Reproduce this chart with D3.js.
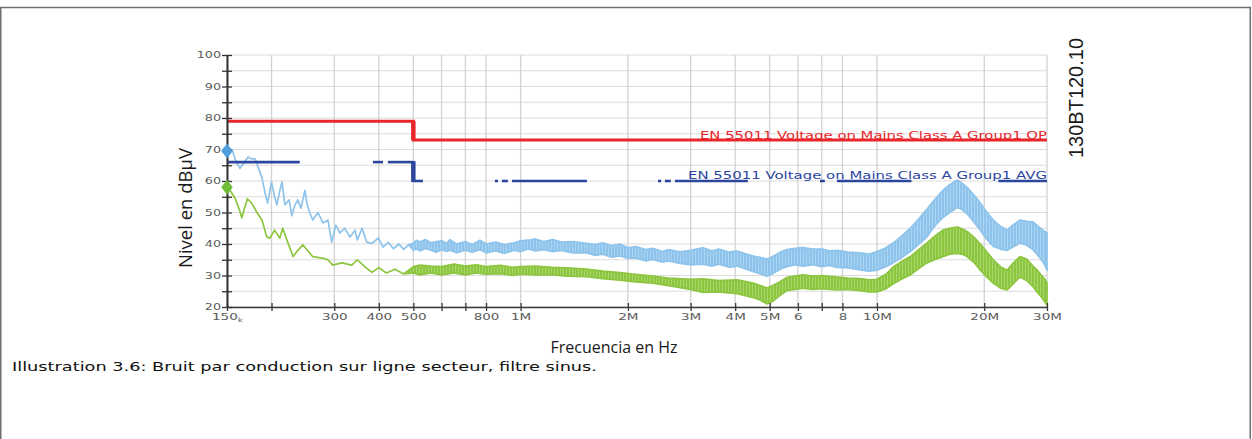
<!DOCTYPE html>
<html><head><meta charset="utf-8">
<script src="https://cdn.jsdelivr.net/npm/d3@7"></script>
<style>html,body{margin:0;padding:0;background:#fff;} svg{display:block}</style>
</head><body>
<svg id="c" width="1252" height="439"></svg>
<script>
// ---------- data ----------
const xTickValues = [150e3,200e3,300e3,400e3,500e3,600e3,700e3,800e3,1e6,2e6,3e6,4e6,5e6,6e6,7e6,8e6,10e6,20e6,30e6];
const xTickLabels = ["150k","","300","400","500","","","800","1M","2M","3M","4M","5M","6","","8","10M","20M","30M"];
const yTickValues = [20,25,30,35,40,45,50,55,60,65,70,75,80,85,90,95,100];
const yTickLabels = ["20","","30","","40","","50","","60","","70","","80","","90","","100"];

// EN 55011 QP limit (step line)
const qpFreq  = [150e3, 500e3, 500e3, 30e6];
const qpLevel = [79, 79, 73, 73];
// EN 55011 AVG limit: drawn segments (Hz) and levels
const avgSegF1    = [150e3, 385e3, 424e3, 500e3, 847e3, 886e3, 946e3, 2.43e6, 2.54e6, 2.71e6, 6.92e6, 7.72e6, 21.9e6];
const avgSegF2    = [240e3, 411e3, 500e3, 532e3, 864e3, 921e3, 1.535e6, 2.48e6, 2.64e6, 4.34e6, 7.14e6, 12.5e6, 30e6];
const avgSegLevel = [66, 66, 66, 60, 60, 60, 60, 60, 60, 60, 60, 60, 60];
const avgStepFreq = 500e3;
const avgStepLevels = [66, 60];

// Peak trace (light blue): frequency in kHz, low / high envelope in dBµV
const pkFreq = [150,155,158,163,168,172,176,180,184,188,192,195,200,204,207,211,214,218,224,228,232,237,242,248,252,256,261,270,279,288,295,303,311,321,332,343,348,359,370,383,399,411,425,440,455,470,485,
  500,510,522,540,560,580,600,620,634,660,700,730,769,800,850,900,960,1000,1050,1100,1160,1230,1300,1400,1530,1620,1700,1800,1900,2000,2100,2250,2350,2500,2600,2800,3000,3250,3450,3600,3850,4050,4300,4500,4700,4910,5050,5200,5400,5590,5900,6200,6600,7000,7350,7720,8300,8960,9500,10000,10500,11100,11700,12400,13100,13800,14500,15300,16000,16800,17300,17900,18700,19500,20300,21200,22200,23200,24200,25200,26300,27400,28200,29000,29600,30000];
const pkLo = [69.5,70,67,64,66,67.6,67,67,64,61,56,53,59.7,55,52.4,57,59.7,52.4,54,49,52,54,51.4,57,52.4,50,47.6,50,46.7,47.6,40.6,46,43.5,45,42.2,44.4,41.3,45,40.6,40.2,41.9,39,40.5,38.5,40,38.3,39.8,
  38.0,38.5,37.8,38.6,38.0,37.4,38.2,37.6,38.0,37.2,38.0,37.4,38.2,37.2,37.8,37.0,38.0,37.6,38.4,37.8,38.2,37.6,38.0,37.2,37.2,36.4,36.8,35.8,36.2,35.4,35.6,34.6,35.1,34.2,34.6,33.8,33.4,33.6,33.0,33.6,32.6,33.0,32.0,31.2,30.6,29.8,30.4,31.2,32.2,32.8,33.4,33.0,33.4,32.8,33.2,32.6,32.4,31.8,31.4,31.7,32.6,34.0,35.6,37.6,40.0,42.2,45.6,48.4,50.0,51.6,51.0,49.6,47.0,44.4,41.6,39.2,38.4,38.0,39.2,40.3,39.6,38.2,36.6,34.8,33.2,31.7];
const pkHi = [69.5,70,67,64,66,67.6,67,67,64,61,56,53,59.7,55,52.4,57,59.7,52.4,54,49,52,54,51.4,57,52.4,50,47.6,50,46.7,47.6,40.6,46,43.5,45,42.2,44.4,41.3,45,40.6,40.2,41.9,39,40.5,38.5,40,38.3,39.8,
  40.2,41.2,40.6,41.4,40.4,40.8,41.0,40.2,41.4,40.0,40.8,39.8,41.2,40.0,40.6,39.8,40.4,41.0,41.2,41.6,40.8,41.4,40.6,40.8,40.2,39.8,40.4,39.4,40.0,38.8,39.2,38.2,38.6,37.6,38.2,37.5,38.0,38.8,37.8,38.4,37.4,37.8,36.8,36.2,35.8,35.2,35.8,36.6,37.6,38.2,38.6,38.9,38.4,38.4,37.8,38.0,37.4,37.2,36.8,37.6,38.6,40.3,42.4,45.0,48.0,51.0,54.0,57.0,58.8,60.3,59.4,58.0,55.6,53.0,50.2,47.6,45.6,44.4,46.2,47.6,47.2,47.0,45.8,44.6,44.0,43.5];

// Average trace (green)
const avFreq = [150,153,158,163,165,171,176,182,188,194,198,204,211,215,222,230,237,245,252,261,278,288,297,315,336,348,366,383,400,420,444,470,
  500,522,560,600,650,700,750,800,880,950,1000,1100,1230,1350,1530,1700,1900,2100,2350,2600,3000,3250,3600,4050,4500,4700,4910,5100,5300,5590,6200,6600,7000,7720,8300,8960,9500,10000,10600,11100,11700,12400,13100,13800,14500,15300,16000,16800,17300,17900,18700,19500,20300,21200,22200,23200,24200,25200,26300,27400,28200,29000,29600,30000];
const avLo = [58,57,54.6,50.5,48.3,54.3,53,50,47.6,42.2,41.9,44.4,41.9,45,40.6,36,38,39.7,38,36,35.5,35,33.3,34,33.3,35,32.7,31,32.5,30.8,32,30.5,
  30.8,30.2,30.8,30.2,30.8,30.2,30.8,30.4,30.6,30.0,30.4,30.2,30.2,29.8,29.6,29.0,28.5,28.0,27.6,26.8,25.6,24.6,24.8,24.2,23.0,22.2,21.0,21.8,23.4,25.2,26.0,25.6,25.8,25.4,25.6,25.2,24.8,24.8,25.8,27.4,28.8,30.2,32.2,34.0,35.0,36.0,36.8,37.0,36.8,36.0,34.2,31.7,29.6,27.6,26.0,25.4,27.6,29.5,28.4,26.5,24.6,23.0,21.6,20.5];
const avHi = [58,57,54.6,50.5,48.3,54.3,53,50,47.6,42.2,41.9,44.4,41.9,45,40.6,36,38,39.7,38,36,35.5,35,33.3,34,33.3,35,32.7,31,32.5,30.8,32,30.5,
  32.8,33.3,33.0,32.8,33.6,33.0,33.4,32.8,33.2,32.6,32.8,33.0,32.6,32.4,32.0,31.4,30.9,30.4,29.8,29.2,28.8,28.9,28.4,28.6,27.6,26.8,26.0,26.8,27.8,29.4,30.2,29.8,30.0,29.5,29.2,29.0,28.6,28.8,30.4,32.7,34.4,36.0,38.2,40.3,42.4,44.4,45.0,45.4,44.8,44.0,42.2,40.0,37.6,35.0,32.8,31.7,34.2,36.0,35.2,33.0,31.6,30.0,28.8,27.6];

// marker levels at 150 kHz
const markerLevels = [69.5, 58];

// ---------- drawing ----------
const svg = d3.select('#c');
const x = d3.scaleLog().domain([150e3, 30e6]).range([227, 1047]);
const y = d3.scaleLinear().domain([20, 100]).range([307, 55]);

const blue = '#8ec4ec', blueLight = '#b3d8f4';
const green = '#8cc63f', greenLight = '#b2da7c';
const red = '#e8262b', navy = '#2c469e';

// frame
svg.append('rect').attr('x', 0.75).attr('y', 7.5).attr('width', 1249.5).attr('height', 460)
  .attr('fill', 'none').attr('stroke', '#6e6e6e').attr('stroke-width', 1.5);

const defs = svg.append('defs');
function hatch(id, c1, c2) {
  const p = defs.append('pattern').attr('id', id).attr('width', 3).attr('height', 4)
    .attr('patternUnits', 'userSpaceOnUse');
  p.append('rect').attr('width', 3).attr('height', 4).attr('fill', c1);
  p.append('rect').attr('x', 2).attr('width', 0.8).attr('height', 4).attr('fill', c2);
}
hatch('hb', blue, blueLight);
hatch('hg', green, greenLight);

// grid
const grid = svg.append('g');
grid.selectAll('line.h').data(yTickValues).join('line')
  .attr('x1', x.range()[0]).attr('x2', x.range()[1])
  .attr('y1', d => y(d)).attr('y2', d => y(d))
  .attr('stroke', '#dcdcdc').attr('stroke-width', 1.2);
grid.selectAll('line.v').data(xTickValues).join('line')
  .attr('x1', d => x(d)).attr('x2', d => x(d))
  .attr('y1', y.range()[1]).attr('y2', y.range()[0])
  .attr('stroke', '#d2d2d2').attr('stroke-width', 1.3);

// traces
const area = d3.area().x(d => x(d.f)).y0(d => y(d.lo)).y1(d => y(d.hi));
const pkRows = pkFreq.map((f, i) => ({f: f * 1e3, lo: pkLo[i], hi: pkHi[i]}));
const avRows = avFreq.map((f, i) => ({f: f * 1e3, lo: avLo[i], hi: avHi[i]}));
svg.append('path').datum(pkRows).attr('d', area)
  .attr('fill', 'url(#hb)').attr('stroke', blue).attr('stroke-width', 1.7).attr('stroke-linejoin', 'round');
svg.append('path').datum(avRows).attr('d', area)
  .attr('fill', 'url(#hg)').attr('stroke', green).attr('stroke-width', 1.7).attr('stroke-linejoin', 'round');

// QP limit
const qpRows = qpFreq.map((f, i) => ({f, v: qpLevel[i]}));
svg.append('path').datum(qpRows)
  .attr('d', d3.line().x(d => x(d.f)).y(d => y(d.v)))
  .attr('fill', 'none').attr('stroke', red).attr('stroke-width', 3);
svg.append('line').attr('x1', x(500e3)).attr('x2', x(500e3))
  .attr('y1', y(qpLevel[1])).attr('y2', y(qpLevel[2]))
  .attr('stroke', red).attr('stroke-width', 4.5);

// AVG limit
const avgRows = avgSegF1.map((f, i) => ({f1: f, f2: avgSegF2[i], v: avgSegLevel[i]}));
svg.append('g').selectAll('line').data(avgRows).join('line')
  .attr('x1', d => x(d.f1)).attr('x2', d => x(d.f2))
  .attr('y1', d => y(d.v)).attr('y2', d => y(d.v))
  .attr('stroke', navy).attr('stroke-width', 2.6);
svg.append('line').attr('x1', x(avgStepFreq)).attr('x2', x(avgStepFreq))
  .attr('y1', y(avgStepLevels[0]) - 1).attr('y2', y(avgStepLevels[1]) + 1)
  .attr('stroke', navy).attr('stroke-width', 4.5);

// limit labels
svg.append('text').attr('x', x(30e6)).attr('y', y(73) - 1.5)
  .attr('text-anchor', 'end').attr('fill', red)
  .style('font-family', 'DejaVu Sans, Verdana, sans-serif').style('font-size', '10.5px')
  .attr('textLength', 347).attr('lengthAdjust', 'spacingAndGlyphs')
  .text('EN 55011 Voltage on Mains Class A Group1 QP');
svg.append('text').attr('x', x(30e6)).attr('y', y(60) - 2)
  .attr('text-anchor', 'end').attr('fill', navy)
  .style('font-family', 'DejaVu Sans, Verdana, sans-serif').style('font-size', '10.5px')
  .attr('textLength', 359).attr('lengthAdjust', 'spacingAndGlyphs')
  .text('EN 55011 Voltage on Mains Class A Group1 AVG');

// axes
const tickFont = 'DejaVu Sans, Verdana, sans-serif';
const xAxis = d3.axisBottom(x).tickValues(xTickValues)
  .tickFormat((d, i) => xTickLabels[i]).tickSizeInner(4).tickSizeOuter(0);
const gx = svg.append('g').attr('transform', `translate(0,${y(20)})`).call(xAxis);
gx.select('.domain').attr('stroke', '#3a3a3a').attr('stroke-width', 1.6);
gx.selectAll('.tick line').attr('y1', -4).attr('y2', 4).attr('stroke', '#3a3a3a').attr('stroke-width', 1.3);
gx.selectAll('.tick text').attr('y', 13).attr('dy', 0).attr('fill', '#5a5a5a')
  .style('font-family', tickFont).style('font-size', '9px')
  .each(function(d, i) {
    const t = d3.select(this);
    const lab = xTickLabels[i];
    if (lab.endsWith('k')) {
      t.text(lab.slice(0, -1));
      t.append('tspan').style('font-size', '6px').attr('dy', 1.5).text('k');
    }
    const w = this.getComputedTextLength();
    if (w > 0) t.attr('textLength', w * 1.5).attr('lengthAdjust', 'spacingAndGlyphs');
  });

const yAxis = d3.axisLeft(y).tickValues(yTickValues)
  .tickFormat((d, i) => yTickLabels[i]).tickSizeInner(5).tickSizeOuter(0);
const gy = svg.append('g').attr('transform', `translate(${x(150e3)},0)`).call(yAxis);
gy.select('.domain').attr('stroke', '#333').attr('stroke-width', 2);
gy.selectAll('.tick line').attr('x1', -5).attr('x2', 5).attr('stroke', '#333').attr('stroke-width', 1.3);
gy.selectAll('.tick text').attr('x', -6).attr('dy', '0.35em').attr('fill', '#5a5a5a')
  .style('font-family', tickFont).style('font-size', '8.5px')
  .each(function() {
    const w = this.getComputedTextLength();
    if (w > 0) d3.select(this).attr('textLength', w * 1.5).attr('lengthAdjust', 'spacingAndGlyphs');
  });

// markers
const diamond = d3.symbol().type(d3.symbolDiamond).size(80);
svg.append('path').attr('d', diamond).attr('transform', `translate(${x(150e3)},${y(markerLevels[0])}) scale(1.2,0.9)`)
  .attr('fill', '#4f9fdc');
svg.append('path').attr('d', diamond).attr('transform', `translate(${x(150e3)},${y(markerLevels[1])}) scale(1.2,0.9)`)
  .attr('fill', '#6fbf3a');

// titles
svg.append('text').attr('transform', 'translate(192,208) rotate(-90)')
  .attr('text-anchor', 'middle').attr('fill', '#1a1a1a')
  .style('font-family', 'Open Sans, sans-serif').style('font-size', '18.5px')
  .text('Nivel en dBµV');
svg.append('text').attr('x', 614).attr('y', 353)
  .attr('text-anchor', 'middle').attr('fill', '#1a1a1a')
  .style('font-family', 'Open Sans, sans-serif').style('font-size', '16px')
  .text('Frecuencia en Hz');
svg.append('text').attr('transform', 'translate(1083,98) rotate(-90)')
  .attr('text-anchor', 'middle').attr('fill', '#1a1a1a')
  .style('font-family', 'Liberation Sans, Arial, sans-serif').style('font-size', '20px')
  .text('130BT120.10');
svg.append('text').attr('x', 12).attr('y', 371).attr('fill', '#111')
  .style('font-family', 'DejaVu Sans, Verdana, sans-serif').style('font-size', '13px')
  .attr('textLength', 585).attr('lengthAdjust', 'spacingAndGlyphs')
  .text('Illustration 3.6: Bruit par conduction sur ligne secteur, filtre sinus.');
</script>
</body></html>
